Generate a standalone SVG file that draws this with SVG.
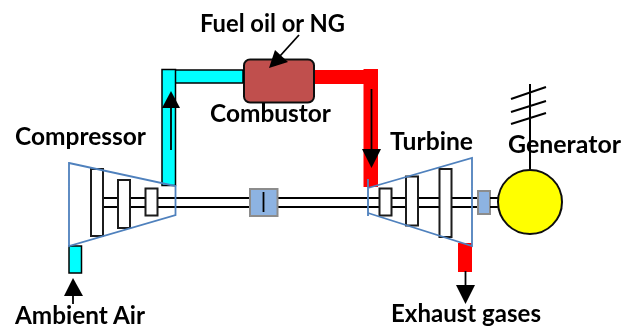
<svg xmlns="http://www.w3.org/2000/svg" width="622" height="329" viewBox="0 0 622 329">
<defs>
<style>
.t{font-family:Lato,"Liberation Sans",sans-serif;font-weight:700;font-size:24px;fill:#000}
.blade{fill:#fff;stroke:#1a1a1a;stroke-width:2}
.casing{fill:none;stroke:#4f81bd;stroke-width:1.8;stroke-linejoin:miter}
.cyan{fill:#00ffff;stroke:#000;stroke-width:1.5}
.red{fill:#ff0000}
.cpl{fill:#8db3e2;stroke:#8c8c8c;stroke-width:2}
.ln{stroke:#000;fill:none}
.ah{fill:#000}
</style>
<filter id="soft" x="0" y="0" width="100%" height="100%"><feGaussianBlur stdDeviation="0.4"/></filter>
</defs>
<rect width="622" height="329" fill="#fff"/>
<g filter="url(#soft)">
<g id="combustor"><rect x="244" y="59.500" width="70" height="43" rx="6" fill="#c0504d" stroke="#111" stroke-width="2"/></g>
<g id="connectors">
<g id="shaft">
<rect x="103" y="198" width="395" height="9" fill="#fff"/>
<path class="ln" stroke-width="2" d="M103 198H498M103 207H498"/>
</g>
<g id="air-pipe">
<path class="cyan" d="M175 70H243V83H175Z"/>
<path class="cyan" d="M162 69.500H175.500V185.500H162Z"/>
</g>
<g id="hot-pipe">
<path class="red" d="M315 70H364V84H315Z"/>
<path class="red" d="M363.500 69H378V187H363.500Z"/>
</g>
<g id="air-inlet"><rect class="cyan" x="69" y="246" width="12.500" height="27"/></g>
<g id="exhaust-pipe"><rect class="red" x="458" y="243" width="14" height="29"/></g>
<path class="ln" stroke-width="1.800" d="M171 150V100"/>
<polygon class="ah" points="171,91 180,108 162,108"/>
<path class="ln" stroke-width="1.800" d="M371.500 89V152"/>
<polygon class="ah" points="371.500,168 362,149 381,149"/>
<path class="ln" stroke-width="1.800" d="M73 304V290"/>
<polygon class="ah" points="73,278 83,296 64,296"/>
<path class="ln" stroke-width="1.800" d="M465.500 271V290"/>
<polygon class="ah" points="465.500,304 456,285 475,285"/>
<path class="ln" stroke-width="1.800" d="M299 35L280 56"/>
<polygon class="ah" points="269,68 275,50 288,62"/>
</g>
<g id="compressor">
<rect class="blade" x="91" y="169" width="12" height="67"/>
<rect class="blade" x="118" y="180" width="12" height="48"/>
<rect class="blade" x="145.500" y="188.500" width="12" height="27"/>
<polygon class="casing" points="69,163 175.500,186 175.500,215 69,246"/>
</g>
<g id="coupling-1">
<rect class="cpl" x="250" y="189" width="27.500" height="27"/>
<path class="ln" stroke-width="1.800" d="M263.500 192V212"/>
</g>
<g id="turbine">
<rect class="blade" x="379.500" y="188.500" width="12" height="27"/>
<rect class="blade" x="406" y="176.500" width="12" height="49"/>
<rect class="blade" x="439.500" y="169" width="12" height="68"/>
<path class="casing" d="M368 179V216M368 188L472 158V246L368 213"/>
</g>
<g id="coupling-2"><rect class="cpl" x="478" y="191" width="12" height="23"/></g>
<g id="generator">
<path class="ln" stroke-width="2" d="M530 84V170M511 99L546 87M511 112L546 101M511 124L546 113"/>
<path class="ln" stroke-width="2" d="M490 198H498M490 207H498"/>
<circle cx="530" cy="202" r="32" fill="#ffff00" stroke="#111" stroke-width="2"/>
</g>
<g id="labels">
<text class="t" x="200" y="32" textLength="145" lengthAdjust="spacingAndGlyphs">Fuel oil or NG</text>
<text class="t" x="15" y="145" textLength="131" lengthAdjust="spacingAndGlyphs">Compressor</text>
<text class="t" x="210" y="122" textLength="121" lengthAdjust="spacingAndGlyphs">Combustor</text>
<text class="t" x="390" y="150" textLength="83" lengthAdjust="spacingAndGlyphs">Turbine</text>
<text class="t" x="508" y="153" textLength="113" lengthAdjust="spacingAndGlyphs">Generator</text>
<text class="t" x="15" y="324" textLength="130" lengthAdjust="spacingAndGlyphs">Ambient Air</text>
<text class="t" x="391" y="322" textLength="150" lengthAdjust="spacingAndGlyphs">Exhaust gases</text>
</g>
</g>
</svg>
